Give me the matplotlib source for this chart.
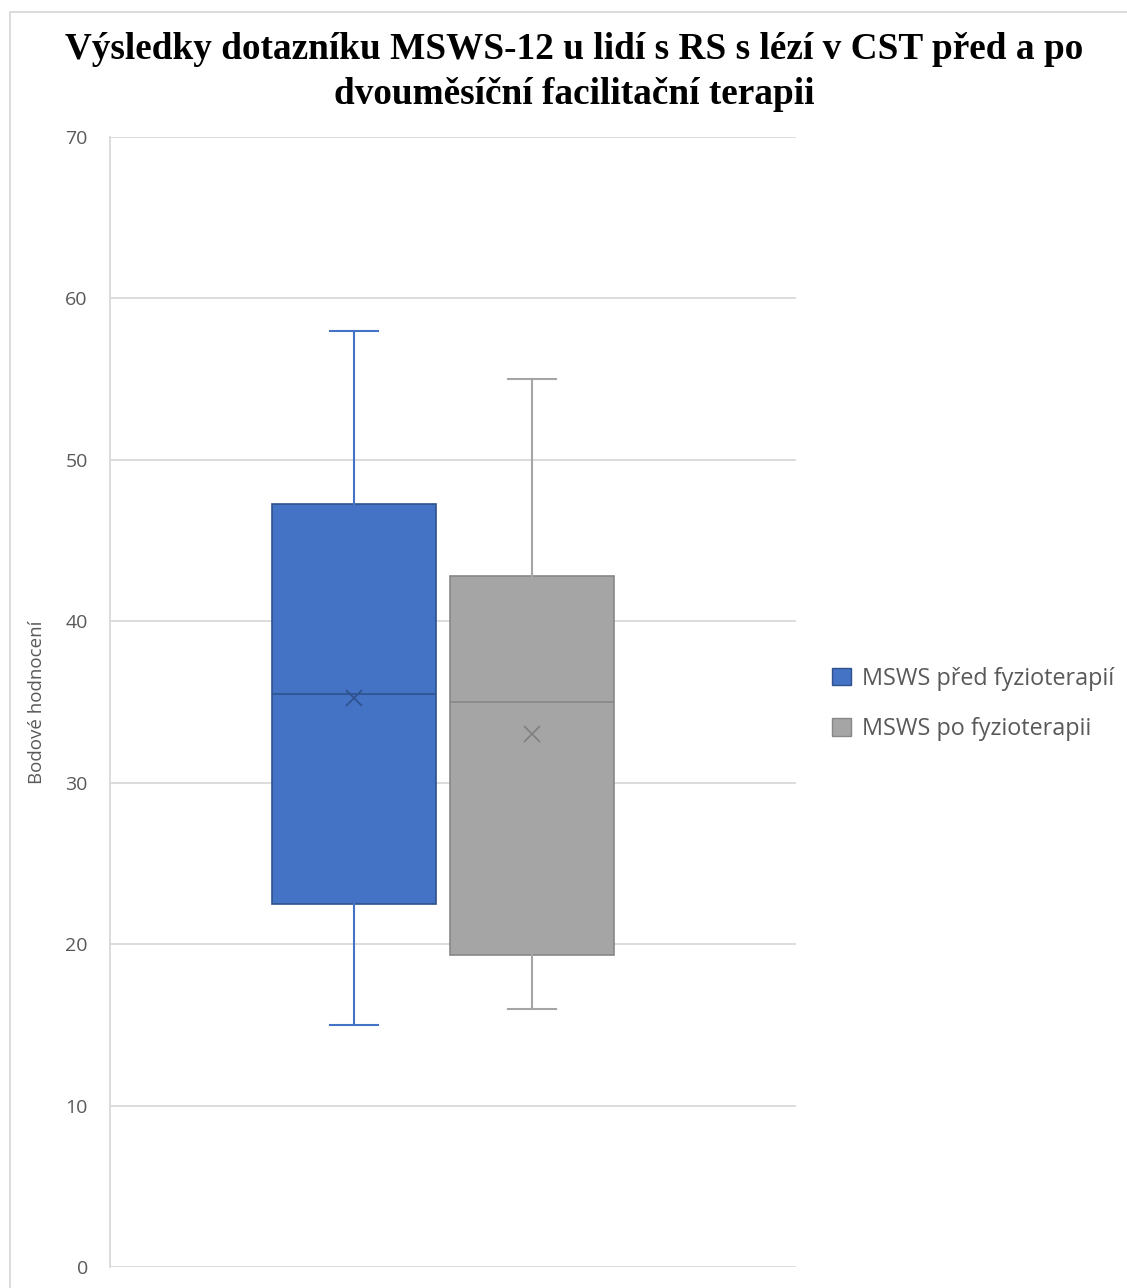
import matplotlib.pyplot as plt
from matplotlib.patches import Rectangle, Patch

# MSWS-12 summary per group (Excel box-and-whisker)
labels = ["MSWS před fyzioterapií", "MSWS po fyzioterapii"]
whislo = [15.0, 16.0]
q1 = [22.5, 19.3]
med = [35.5, 35.0]
mean = [35.25, 33.0]
q3 = [47.25, 42.8]
whishi = [58.0, 55.0]

face = ["#4472C4", "#A5A5A5"]
edge = ["#2F528F", "#878787"]
mark = ["#2F528F", "#7F7F7F"]

fig = plt.figure(figsize=(11.27, 12.88), dpi=100)
ax = fig.add_axes([110 / 1127, 1 - 1267 / 1288, 686 / 1127, 1130 / 1288])

# light frame around the whole chart area
fig.patches.append(Rectangle((10 / 1127, -0.1), 1.2, 1 - 12 / 1288 + 0.1,
                             transform=fig.transFigure, fill=False,
                             edgecolor="#D9D9D9", linewidth=1.3))

positions = [0.3557, 0.615]
for i in range(2):
    stats = [dict(label=labels[i], whislo=whislo[i], q1=q1[i], med=med[i],
                  mean=mean[i], q3=q3[i], whishi=whishi[i], fliers=[])]
    ax.bxp(stats, positions=[positions[i]], widths=0.239, capwidths=0.07,
           patch_artist=True, showmeans=True, showfliers=False,
           boxprops=dict(facecolor=face[i], edgecolor=edge[i], linewidth=1.2),
           medianprops=dict(color=edge[i], linewidth=1.2),
           whiskerprops=dict(color=face[i], linewidth=1.5),
           capprops=dict(color=face[i], linewidth=1.5),
           meanprops=dict(marker="x", markeredgecolor=mark[i],
                          markersize=11, markeredgewidth=1.2),
           zorder=3)

ax.set_xlim(0, 1)
ax.set_ylim(0, 70)
ax.set_yticks(range(0, 71, 10))
ax.set_xticks([])
ax.yaxis.grid(True, color="#D9D9D9", linewidth=1.3)
ax.set_axisbelow(True)
for s in ["top", "right", "bottom"]:
    ax.spines[s].set_visible(False)
ax.spines["left"].set_color("#D9D9D9")
ax.spines["left"].set_linewidth(1.3)
ax.tick_params(axis="y", length=0, pad=16, labelsize=14, labelcolor="#595959")
for t in ax.get_yticklabels():
    t.set_family("Open Sans")

fig.text(37 / 1127, 1 - 702 / 1288, "Bodové hodnocení", rotation=90,
         ha="center", va="center", fontsize=13.5, color="#595959",
         family="Open Sans")

fig.text(574 / 1127, 1 - 72 / 1288,
         "Výsledky dotazníku MSWS-12 u lidí s RS s lézí v CST před a po\n"
         "dvouměsíční facilitační terapii",
         ha="center", va="center", fontsize=26.8, fontweight="bold",
         family="Liberation Serif", linespacing=1.35)

handles = [Patch(facecolor=face[i], edgecolor=edge[i], label=labels[i])
           for i in range(2)]
fig.legend(handles=handles, loc="center left",
           bbox_to_anchor=(811 / 1127, 1 - 704 / 1288), frameon=False,
           prop=dict(family="Open Sans", size=16.8), labelcolor="#595959",
           handlelength=0.8, handleheight=0.8, handletextpad=0.5,
           labelspacing=1.15)

fig.savefig("out.png", dpi=100, facecolor="white")
